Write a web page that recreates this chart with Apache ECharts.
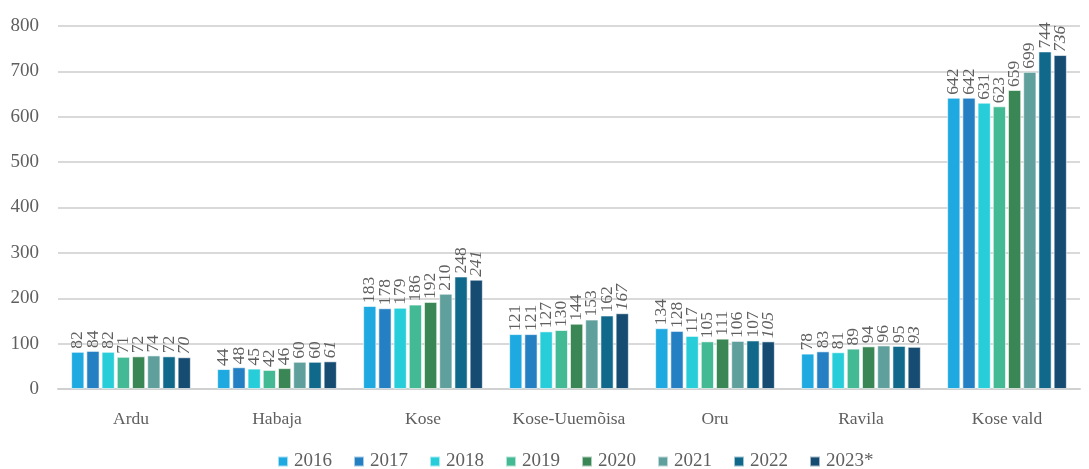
<!DOCTYPE html>
<html>
<head>
<meta charset="utf-8">
<script src="https://cdn.jsdelivr.net/npm/echarts@6/dist/echarts.min.js"></script>
<style>
  html, body { margin: 0; padding: 0; background: #fff; }
  #chart { width: 1089px; height: 469px; }
</style>
</head>
<body>
<div id="chart"></div>
<script>
const categories = ['Ardu', 'Habaja', 'Kose', 'Kose-Uuemõisa', 'Oru', 'Ravila', 'Kose vald']
const years = ['2016', '2017', '2018', '2019', '2020', '2021', '2022', '2023*']
const colors = ['#1eaae1', '#2580c3', '#27cdd8', '#43b994', '#3a8755', '#5f9f9c', '#10698a', '#174c72']

// väärtused aastate kaupa, järjekord nagu categories
const v2016 = [82, 44, 183, 121, 134, 78, 642]
const v2017 = [84, 48, 178, 121, 128, 83, 642]
const v2018 = [82, 45, 179, 127, 117, 81, 631]
const v2019 = [71, 42, 186, 130, 105, 89, 623]
const v2020 = [72, 46, 192, 144, 111, 94, 659]
const v2021 = [74, 60, 210, 153, 106, 96, 699]
const v2022 = [72, 60, 248, 162, 107, 95, 744]
const v2023 = [70, 61, 241, 167, 105, 93, 736]
const values = [v2016, v2017, v2018, v2019, v2020, v2021, v2022, v2023]

const fontFamily = 'Liberation Serif, DejaVu Serif, serif'
const textColor = '#5f5f5f'

const chart = echarts.init(document.getElementById('chart'))

const series = years.map((y, i) => ({
  name: y,
  type: 'bar',
  data: values[i],
  barGap: '15%',
  barCategoryGap: '18%',
  itemStyle: { color: colors[i], borderColor: 'rgba(255,255,255,0.6)', borderWidth: 1 },
  label: {
    show: true,
    position: 'top',
    rotate: 90,
    align: 'left',
    verticalAlign: 'middle',
    distance: 3,
    color: textColor,
    fontSize: 17.5,
    fontFamily,
    fontStyle: i === 7 ? 'italic' : 'normal'
  }
}))

chart.setOption({
  color: colors,
  animation: false,
  grid: { left: 58, right: 9, top: 26, bottom: 80 },
  legend: {
    top: 447,
    left: 272,
    itemWidth: 10,
    itemHeight: 10,
    itemGap: 21,
    icon: 'rect',
    textStyle: { color: textColor, fontSize: 19, fontFamily, padding: [0, 0, 0, 1] },
    data: years
  },
  xAxis: {
    type: 'category',
    data: categories,
    axisTick: { show: false },
    axisLine: { lineStyle: { color: '#d0d0d0', width: 2 } },
    axisLabel: { color: textColor, fontSize: 17.5, fontFamily, margin: 21, interval: 0 }
  },
  yAxis: {
    type: 'value',
    min: 0,
    max: 800,
    interval: 100,
    axisLine: { show: false },
    axisTick: { show: false },
    splitLine: { lineStyle: { color: '#d9d9d9', width: 2 } },
    axisLabel: { color: textColor, fontSize: 19, fontFamily, margin: 19 }
  },
  series
})
</script>
</body>
</html>
